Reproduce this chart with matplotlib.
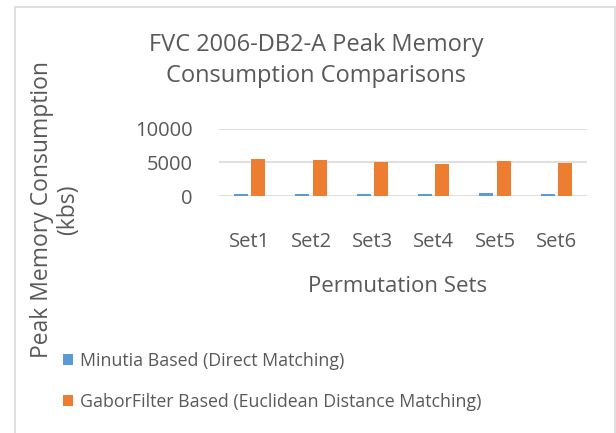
import numpy as np
import matplotlib.pyplot as plt

sets = ['Set1', 'Set2', 'Set3', 'Set4', 'Set5', 'Set6']
minutia = [300, 300, 300, 300, 450, 300]
gabor = [5500, 5350, 5000, 4800, 5200, 4900]

W, H = 616, 433
grey = '#595959'
plt.rcParams['font.family'] = ['Open Sans', 'DejaVu Sans']

fig = plt.figure(figsize=(W / 100, H / 100), dpi=100)
ax = fig.add_axes([219 / W, 1 - 196 / H, (587 - 219) / W, (196 - 128.7) / H])

x = np.arange(len(sets))
b1 = ax.bar(x - 0.14, minutia, 0.23, color='#5B9BD5', label='Minutia Based (Direct Matching)')
b2 = ax.bar(x + 0.14, gabor, 0.23, color='#ED7D31',
            label='GaborFilter Based (Euclidean Distance Matching)')

ax.set_xlim(-0.5, len(sets) - 0.5)
ax.set_ylim(0, 10000)
ax.set_yticks([0, 5000, 10000])
ax.yaxis.grid(True, color='#d9d9d9', linewidth=1.2)
ax.set_axisbelow(True)
for s in ax.spines.values():
    s.set_visible(False)
ax.tick_params(length=0, labelsize=14.5, colors=grey)
ax.tick_params(axis='x', pad=34)
ax.tick_params(axis='y', pad=24)
ax.set_xticks(x)
ax.set_xticklabels(sets)
ax.tick_params(axis='x', pad=26)
ax.tick_params(axis='y', pad=19)

fig.text(316 / W, 1 - 45 / H, 'FVC 2006-DB2-A Peak Memory', ha='center', va='center',
         fontsize=17, color=grey)
fig.text(316 / W, 1 - 76 / H, 'Consumption Comparisons', ha='center', va='center',
         fontsize=17, color=grey)
fig.text(398 / W, 1 - 287 / H, 'Permutation Sets', ha='center', va='center',
         fontsize=16, color=grey)
fig.text(55 / W, 1 - 210 / H, 'Peak Memory Consumption\n(kbs)', ha='center', va='center',
         rotation=90, fontsize=16.5, color=grey, linespacing=1.15)

fig.legend(handles=[b1, b2], loc='upper left', bbox_to_anchor=(47 / W, 1 - 336 / H),
           frameon=False, fontsize=12.8, labelcolor=grey, handlelength=0.55,
           handleheight=0.55, handletextpad=0.4, labelspacing=1.3)

fig.patches.append(plt.Rectangle((15 / W, -0.1), (615 - 15) / W, 1 - 7 / H + 0.1,
                                 transform=fig.transFigure, fill=False,
                                 edgecolor='#d9d9d9', linewidth=1.2))

fig.savefig('out.png', dpi=100)
